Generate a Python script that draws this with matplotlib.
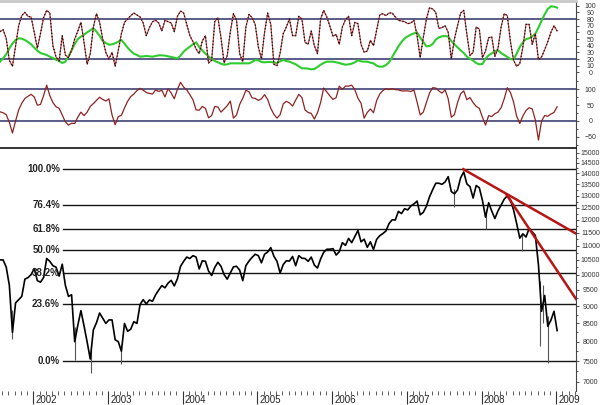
import numpy as np
import matplotlib
matplotlib.use('Agg')
import matplotlib.pyplot as plt
from matplotlib.ticker import FixedLocator, FixedFormatter, NullFormatter

plt.rcParams['font.family'] = ['Liberation Sans', 'DejaVu Sans']

# weekly-ish samples, two per month, starting late July 2001
start_year = 2001.554
step = 1 / 24

close = [
    10500, 10500, 10250, 9650, 8250, 9100, 9200, 9300, 9850, 9900, 10000, 10200,
    9800, 9750, 9900, 10550, 10450, 10300, 10250, 9950, 10350, 9650, 9300, 9350,
    8000, 8450, 8870, 8430, 7990, 7550, 8320, 8520, 8800, 8650, 8500, 8600,
    8600, 8050, 8000, 7750, 8500, 8280, 8340, 8550, 8500, 9050, 9200, 9070,
    9190, 9150, 9350, 9500, 9640, 9570, 9720, 9810, 9630, 9860, 10280, 10450,
    10600, 10550, 10650, 10600, 10190, 10470, 10450, 10120, 9970, 10240, 10420, 10280,
    10000, 9850, 10050, 10260, 10280, 10150, 9800, 10300, 10460, 10590, 10700, 10650,
    10400, 10700, 10780, 10940, 10630, 10450, 10050, 10340, 10470, 10460, 10620, 10300,
    10650, 10560, 10550, 10450, 10600, 10320, 10220, 10530, 10770, 10880, 10880, 10900,
    10670, 10790, 11120, 11020, 11280, 11120, 11350, 11580, 11150, 11250, 10950, 11150,
    10870, 11240, 11380, 11460, 11560, 11850, 12000, 11990, 12340, 12250, 12450, 12400,
    12560, 12650, 12770, 12200, 12300, 12550, 12950, 13260, 13550, 13550, 13500, 13610,
    13850, 13180, 13080, 13250, 13800, 14070, 13520, 13400, 12900, 13450, 13350, 12800,
    12100, 12700, 12350, 12050, 12360, 12600, 12850, 13000, 12830, 12400, 11850, 11290,
    11450, 11330, 11660, 11530, 11390, 10330, 8850, 9330, 8420, 8590, 8850, 8300,
]

stoch = [
    61, 64, 51, 18, 9, 40, 70, 85, 90, 84, 83, 60,
    36, 58, 82, 93, 89, 40, 23, 17, 55, 26, 22, 33,
    50, 62, 75, 45, 12, 28, 68, 88, 75, 50, 30, 20,
    30, 9, 33, 58, 75, 80, 85, 89, 86, 83, 74, 55,
    67, 76, 78, 74, 62, 78, 76, 74, 61, 84, 92, 89,
    72, 55, 46, 35, 28, 47, 55, 14, 18, 76, 82, 52,
    14, 25, 61, 88, 78, 28, 16, 68, 87, 82, 72, 38,
    20, 60, 89, 72, 12, 10, 29, 58, 68, 80, 55, 55,
    84, 80, 45, 42, 62, 40, 28, 80, 93, 83, 69, 54,
    57, 42, 68, 79, 84, 55, 75, 73, 42, 30, 32, 48,
    40, 63, 86, 88, 85, 89, 89, 83, 78, 77, 76, 73,
    74, 78, 55, 22, 52, 80, 97, 95, 90, 66, 67, 70,
    60, 20, 50, 70, 89, 93, 57, 25, 30, 68, 65, 22,
    32, 52, 53, 24, 36, 68, 88, 85, 46, 18, 9, 13,
    38, 72, 72, 42, 58, 19, 23, 34, 46, 60, 70, 62,
]

slow = [
    16, 21, 27, 36, 43, 48.5, 51, 50.5, 48.5, 45.5, 42, 37,
    32.5, 29, 27.5, 26, 23.5, 21.5, 19, 17, 14, 16, 24, 33,
    42.5, 50, 53.5, 56.5, 60, 63, 66, 61, 55, 47, 44, 41.5,
    42, 43.5, 46, 48.5, 43, 37, 32, 28, 26, 23.5, 24, 24.5,
    24, 23.5, 24.5, 25.5, 25.5, 25, 24, 23, 22, 21, 25, 31,
    35, 38.5, 42, 45, 38, 33, 28, 24, 20, 17, 15, 13,
    11.5, 12, 13.5, 13.5, 13.5, 13.5, 13.5, 13.5, 13.5, 15.5, 18.5, 18,
    15.5, 15, 15.5, 15.5, 14.5, 14, 16.5, 18.5, 17, 16, 14, 12,
    9, 6, 6, 5.5, 4.5, 5, 8, 11.5, 14, 16, 16, 16,
    15, 14, 12.5, 11.5, 12, 13, 15, 18, 16.5, 16, 16, 14.5,
    13.5, 10, 8.5, 8.5, 11, 15, 23, 31, 39, 45.5, 51, 54,
    56.5, 58.5, 60, 52, 45.5, 39, 39.5, 42.5, 49, 52.5, 54, 54.5,
    53.5, 47, 42, 37.5, 33, 29, 23.5, 20.5, 17.5, 14, 12, 12.5,
    20.5, 25.5, 28.5, 31.5, 33, 29, 26, 23, 20, 19.5, 28, 38,
    45, 50, 51, 54, 58, 67, 77.5, 87, 95, 99, 98.5, 97,
]

osc = [
    29, 26, 20, -4, -38, 0, 35, 56, 71, 78, 84, 76,
    50, 52, 80, 113, 80, 58, 45, 40, 19, -3, -13, -7,
    -8, 12, 28, 17, 28, 46, 55, 65, 75, 68, 63, 70,
    19, -12, 14, 18, 41, 62, 77, 85, 96, 103, 97, 90,
    87, 85, 98, 93, 97, 76, 102, 88, 70, 100, 122, 107,
    98, 83, 67, 35, 34, 46, 40, 10, 17, 46, 44, 28,
    38, 48, 63, 9, 19, 52, 72, 97, 92, 73, 71, 65,
    70, 83, 68, 40, 21, 9, 20, 54, 62, 57, 47, 66,
    84, 74, 35, 27, 24, 6, 26, 58, 104, 92, 79, 68,
    74, 110, 100, 110, 110, 113, 99, 72, 56, 9, 27, 38,
    26, 64, 85, 96, 102, 99, 102, 99, 98, 95, 95, 95,
    93, 98, 60, 19, 28, 58, 88, 105, 104, 95, 88, 98,
    70, 12, 20, 58, 86, 95, 67, 74, 58, 46, 40, 12,
    -13, 17, 14, 23, 28, 42, 70, 105, 90, 60, 15, -8,
    16, 33, 42, 38, 3, -60, 0, 17, 15, 22, 27, 45,
]

# weekly extremes that stick out of the close line
spike_t = [2001.72, 2002.56, 2002.77, 2003.18, 2007.63, 2008.06, 2008.54, 2008.78, 2008.82, 2008.89]
spike_lo = [8060, 7530, 7200, 7420, 12520, 11630, 10830, 7880, 8500, 7450]
spike_hi = [8900, 8400, 7800, 7900, 13300, 12400, 11500, 9800, 9650, 8700]

fib_low, fib_high = 7500, 14200
fib_ratios = [1.0, 0.764, 0.618, 0.5, 0.382, 0.236, 0.0]
fib_labels = ['100.0%', '76.4%', '61.8%', '50.0%', '38.2%', '23.6%', '0.0%']

trend1_t, trend1_v = [2007.756, 2009.265], [14200, 11460]
trend2_t, trend2_v = [2008.337, 2009.265], [13030, 9220]

years = list(range(2002, 2010))
x_end = 2009.265

t = start_year + np.arange(len(close)) * step

fig = plt.figure(figsize=(6, 4.05), dpi=100)
ax1 = fig.add_axes([0, 1 - 77 / 405, 0.96, 76 / 405])
ax2 = fig.add_axes([0, 1 - 147 / 405, 0.96, 69 / 405])
ax3 = fig.add_axes([0, 1 - 391 / 405, 0.96, 243 / 405])

band = '#3f3f74'
for ax in (ax1, ax2, ax3):
    ax.set_xlim(start_year, x_end)
    for s in ('left', 'bottom', 'top'):
        ax.spines[s].set_visible(False)
    ax.spines['right'].set_color('#444444')
    ax.spines['right'].set_linewidth(0.8)
    ax.yaxis.tick_right()
    ax.tick_params(axis='y', which='both', direction='out', colors='#333333',
                   labelsize=5, pad=8, width=0.6)
    ax.tick_params(axis='y', which='major', length=2.5)
    ax.tick_params(axis='y', which='minor', length=1.5)

# top panel: stochastic
ax1.axhline(80, color=band, lw=1.2)
ax1.axhline(20, color=band, lw=1.2)
ax1.plot(t, slow, color='#2ecc2e', lw=1.5)
ax1.plot(t, stoch, color='#c03a3a', lw=0.8)
ax1.plot(t, stoch, color='#111111', lw=0.9, ls=(0, (1, 1.6)))
ax1.set_ylim(-7, 107)
ax1.set_yticks(range(0, 101, 10))
ax1.set_xticks([])
ax1.spines['top'].set_visible(True)
ax1.spines['top'].set_color('#c8c8c8')
ax1.spines['top'].set_linewidth(2)

# second panel
ax2.axhline(100, color=band, lw=1.2)
ax2.axhline(0, color=band, lw=1.2)
ax2.plot(t, osc, color='#8e2323', lw=0.9)
ax2.set_ylim(-82, 135.6)
ax2.set_yticks([-50, 0, 50, 100])
ax2.yaxis.set_minor_locator(FixedLocator(range(-75, 130, 25)))
ax2.set_xticks([])

# main price panel
ax3.set_yscale('log')
ax3.set_ylim(6789, 15236)
levels = [fib_low + r * (fib_high - fib_low) for r in fib_ratios]
for lev, lab in zip(levels, fib_labels):
    ax3.axhline(lev, xmin=0.109, color='#151515', lw=1.0)
    ax3.annotate(lab, xy=(0.104, lev), xycoords=('axes fraction', 'data'),
                 ha='right', va='center', fontsize=7, fontweight='bold', color='#222222')
ax3.vlines(spike_t, spike_lo, spike_hi, color='#555555', lw=0.8)
ax3.plot(t, close, color='black', lw=1.2)
ax3.plot(trend1_t, trend1_v, color='#b81414', lw=1.8)
ax3.plot(trend2_t, trend2_v, color='#b81414', lw=1.8)

yt = list(range(7000, 15001, 500))
ax3.yaxis.set_major_locator(FixedLocator(yt))
ax3.yaxis.set_major_formatter(FixedFormatter([str(v) for v in yt]))
ax3.yaxis.set_minor_locator(FixedLocator(range(6750, 15250, 250)))
ax3.yaxis.set_minor_formatter(NullFormatter())
ax3.spines['top'].set_visible(True)
ax3.spines['top'].set_color('#111111')
ax3.spines['top'].set_linewidth(1.2)

months = np.arange(2001 + 7 / 12, x_end, 1 / 12)
ax3.xaxis.set_major_locator(FixedLocator(years))
ax3.xaxis.set_minor_locator(FixedLocator(months))
ax3.xaxis.set_major_formatter(NullFormatter())
ax3.tick_params(axis='x', which='major', length=9.5, width=0.8, colors='#333333', direction='out')
ax3.tick_params(axis='x', which='minor', length=3, width=0.6, colors='#444444', direction='out')
for y in years:
    ax3.annotate(str(y), xy=(y, 0), xycoords=('data', 'axes fraction'),
                 xytext=(1.5, -3), textcoords='offset points',
                 ha='left', va='top', fontsize=7, color='#222222')

for ax in (ax1, ax2, ax3):
    for lbl in ax.get_yticklabels():
        lbl.set_horizontalalignment('center')

fig.savefig('out.png', dpi=100)
